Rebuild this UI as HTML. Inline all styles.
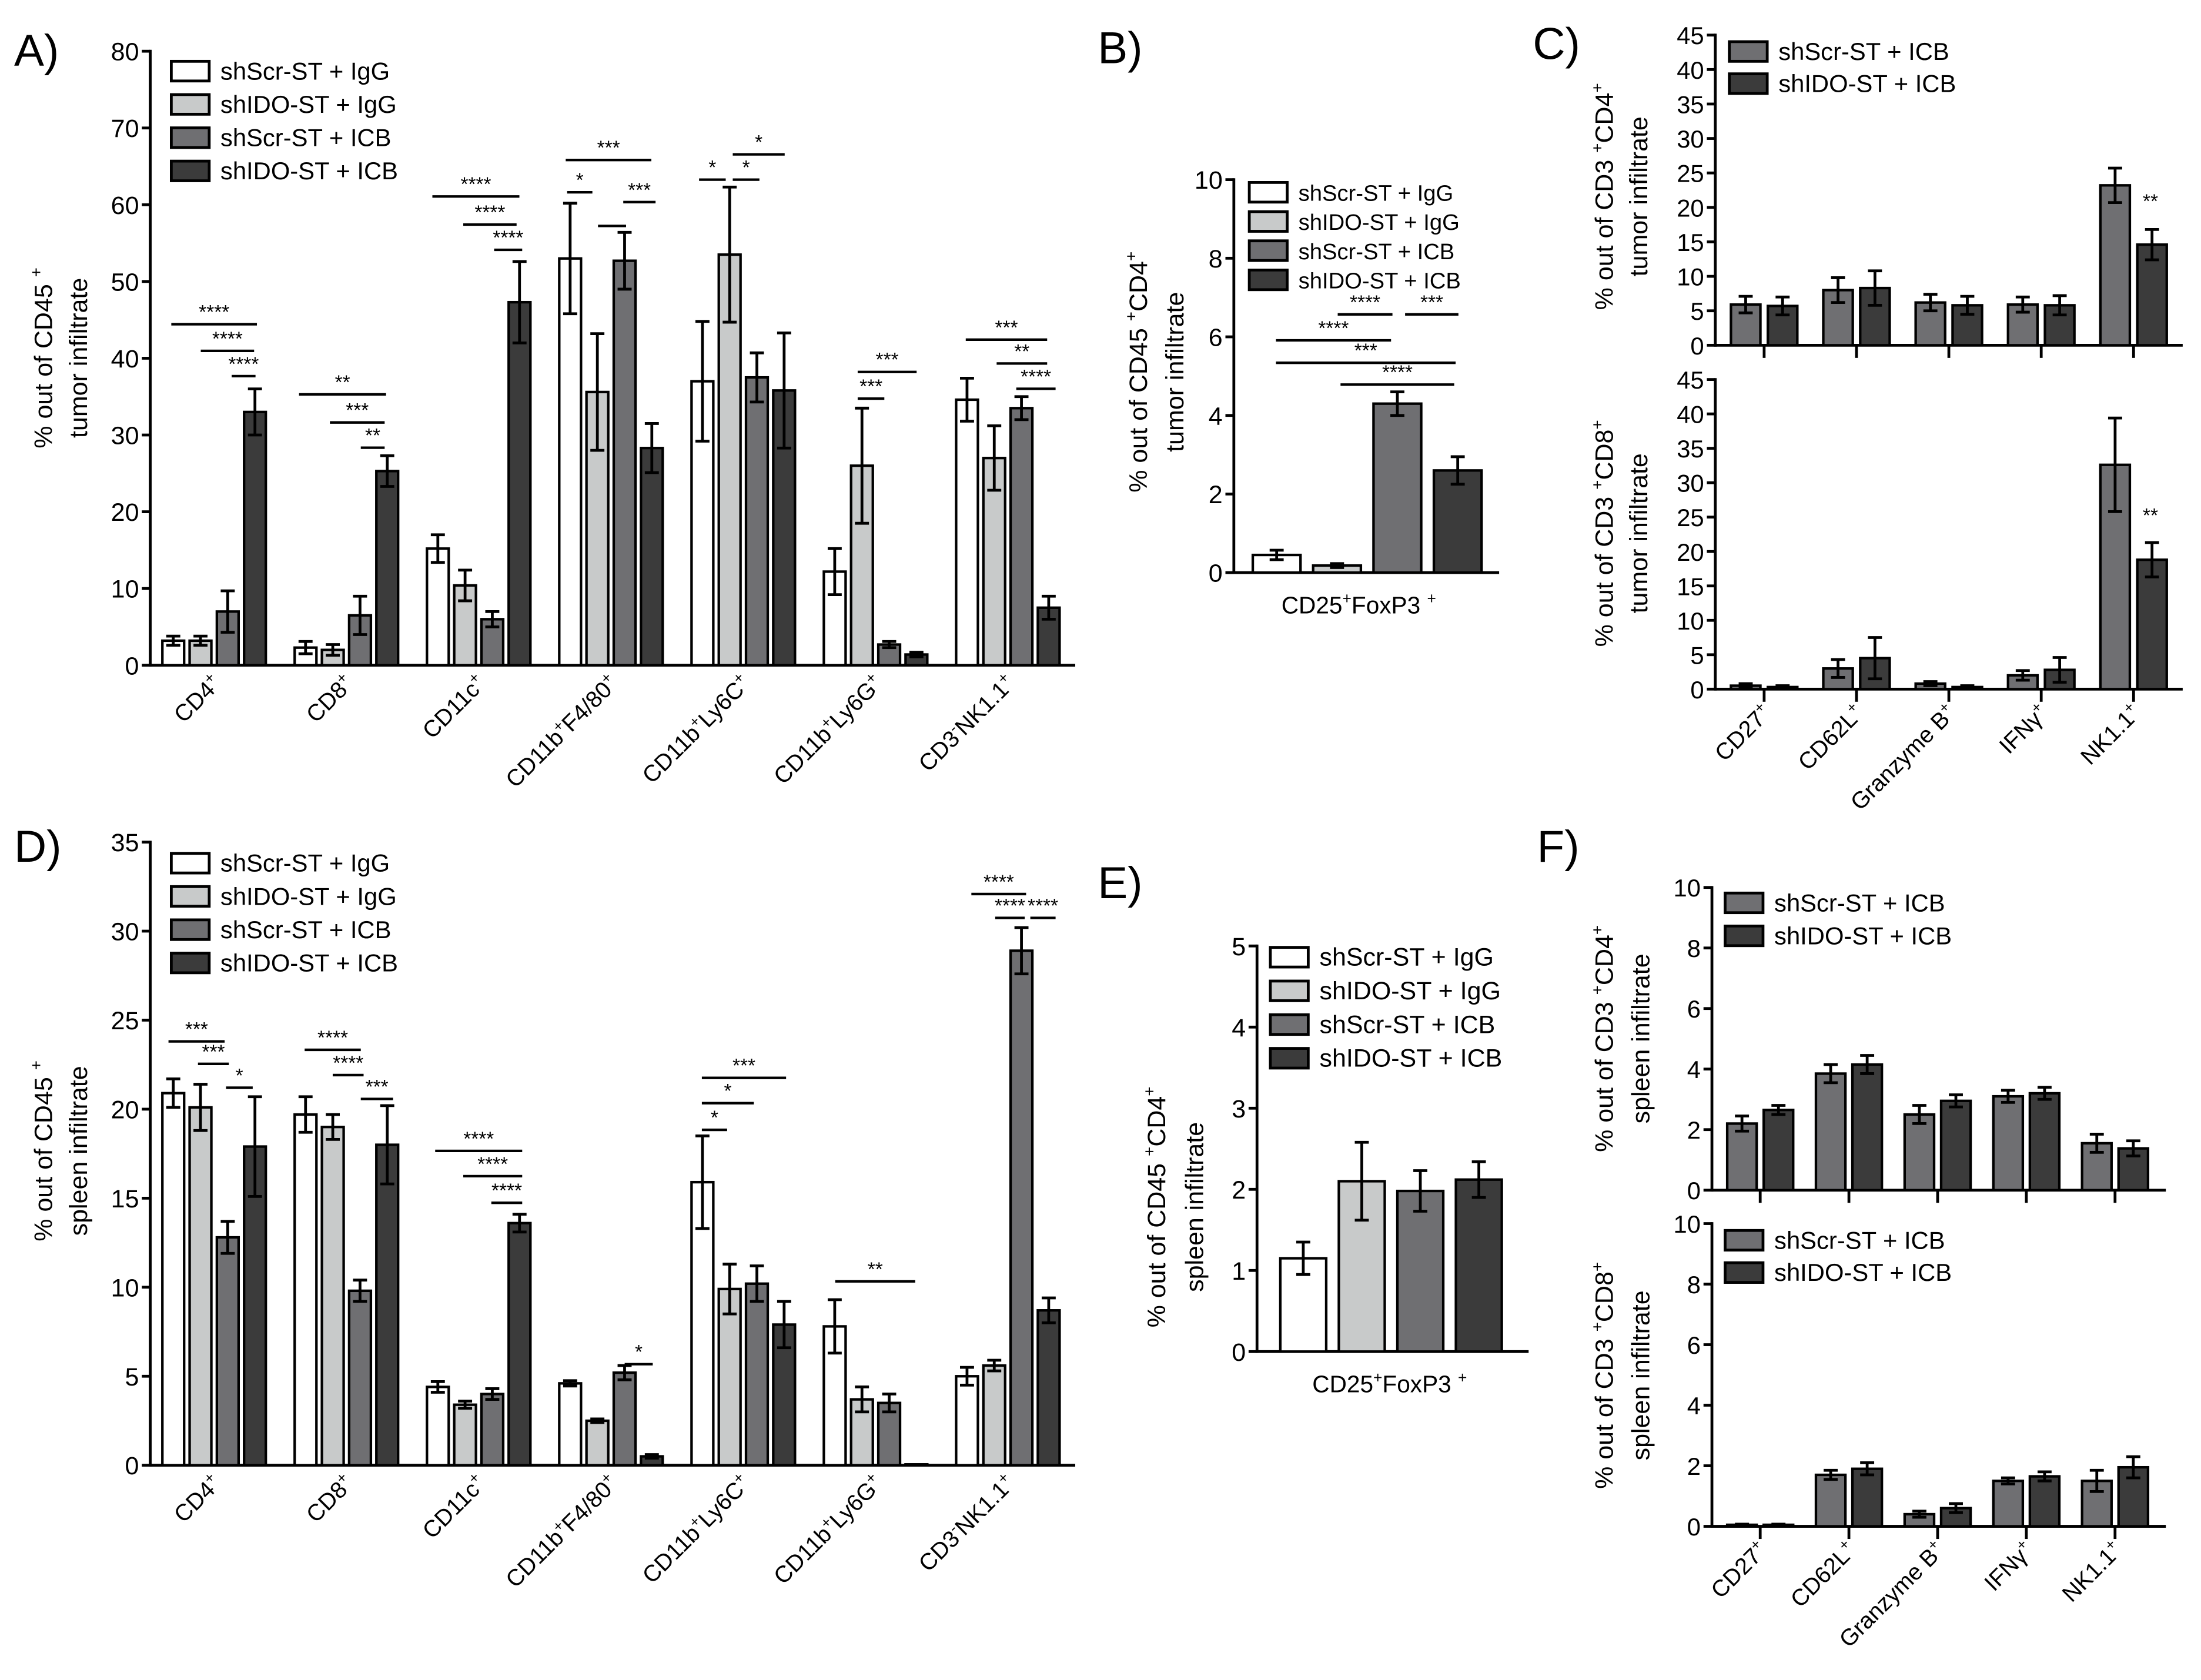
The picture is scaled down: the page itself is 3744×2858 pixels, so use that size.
<!DOCTYPE html>
<html><head><meta charset="utf-8">
<style>
html,body{margin:0;padding:0;background:#fff;}
svg{display:block;}
text{font-family:"Liberation Sans",Arial,sans-serif;fill:#000;}
</style></head>
<body>
<svg id="fig" width="3744" height="2858" viewBox="0 0 1568 1197" xmlns="http://www.w3.org/2000/svg"></svg>
<script>
// ---- data ----
const seriesNames4 = ["shScr-ST + IgG","shIDO-ST + IgG","shScr-ST + ICB","shIDO-ST + ICB"];
const seriesNames2 = ["shScr-ST + ICB","shIDO-ST + ICB"];
const catsAD = ["CD4+","CD8+","CD11c+","CD11b+F4/80+","CD11b+Ly6C+","CD11b+Ly6G+","CD3-NK1.1+"];
const catsCF = ["CD27+","CD62L+","Granzyme B+","IFNγ+","NK1.1+"];
const catsBE = ["CD25+FoxP3 +"];
// A (tumor)
const aScrIgG = [3.2,2.3,15.2,53,37,12.2,34.6];
const aIdoIgG = [3.2,2,10.4,35.6,53.5,26,27];
const aScrICB = [7,6.5,6,52.7,37.5,2.7,33.5];
const aIdoICB = [33,25.3,47.3,28.3,35.8,1.4,7.5];
const aErrScrIgG = [0.6,0.8,1.8,7.2,7.8,3,2.8];
const aErrIdoIgG = [0.6,0.7,2,7.6,8.8,7.5,4.2];
const aErrScrICB = [2.7,2.5,1,3.7,3.2,0.4,1.5];
const aErrIdoICB = [3,2,5.3,3.2,7.5,0.3,1.5];
// B
const bVals = [0.45,0.18,4.3,2.6];
const bErr = [0.12,0.05,0.3,0.35];
// C top / bottom
const cTopScr = [5.9,8,6.2,5.9,23.2];
const cTopIdo = [5.7,8.3,5.8,5.8,14.6];
const cTopErrScr = [1.2,1.8,1.2,1.1,2.5];
const cTopErrIdo = [1.3,2.5,1.3,1.4,2.2];
const cBotScr = [0.5,3,0.8,2,32.6];
const cBotIdo = [0.3,4.5,0.3,2.8,18.8];
const cBotErrScr = [0.3,1.3,0.3,0.7,6.8];
const cBotErrIdo = [0.2,3,0.2,1.8,2.5];
// D (spleen)
const dScrIgG = [20.9,19.7,4.4,4.6,15.9,7.8,5];
const dIdoIgG = [20.1,19,3.4,2.5,9.9,3.7,5.6];
const dScrICB = [12.8,9.8,4,5.2,10.2,3.5,28.9];
const dIdoICB = [17.9,18,13.6,0.5,7.9,0.05,8.7];
const dErrScrIgG = [0.8,1,0.3,0.15,2.6,1.5,0.5];
const dErrIdoIgG = [1.3,0.7,0.2,0.1,1.4,0.7,0.3];
const dErrScrICB = [0.9,0.6,0.3,0.4,1,0.5,1.3];
const dErrIdoICB = [2.8,2.2,0.5,0.1,1.3,0,0.7];
// E
const eVals = [1.15,2.1,1.98,2.12];
const eErr = [0.2,0.48,0.25,0.22];
// F top / bottom
const fTopScr = [2.2,3.85,2.5,3.1,1.55];
const fTopIdo = [2.65,4.15,2.95,3.2,1.38];
const fTopErrScr = [0.25,0.3,0.3,0.2,0.3];
const fTopErrIdo = [0.15,0.3,0.2,0.2,0.25];
const fBotScr = [0.05,1.7,0.4,1.5,1.5];
const fBotIdo = [0.05,1.9,0.6,1.65,1.95];
const fBotErrScr = [0.02,0.15,0.1,0.1,0.35];
const fBotErrIdo = [0.02,0.2,0.15,0.15,0.35];
// ticks
const ticksA = [0,10,20,30,40,50,60,70,80];
const ticksB = [0,2,4,6,8,10];
const ticksC = [0,5,10,15,20,25,30,35,40,45];
const ticksD = [0,5,10,15,20,25,30,35];
const ticksE = [0,1,2,3,4,5];
const ticksF = [0,2,4,6,8,10];

const COL4 = ["#ffffff","#c8caca","#6f6f72","#3b3b3b"];
const COL2 = ["#6f6f72","#3b3b3b"];
const NS = "http://www.w3.org/2000/svg";
const svg = document.getElementById('fig');
function mk(tag, attrs, parent){const e=document.createElementNS(NS,tag);for(const k in attrs)e.setAttribute(k,attrs[k]);(parent||svg).appendChild(e);return e;}

function labelText(parent, x, y, label, fs, anchor, rot){
  const t = mk('text',{x:x,y:y,'font-size':fs,'text-anchor':anchor},parent);
  if(rot) t.setAttribute('transform','rotate('+rot+' '+x+' '+y+')');
  const parts = label.match(/[^+-]+|[+-]/g);
  parts.forEach(p=>{
    const ts = mk('tspan',{},t);
    if(p==='+'||p==='-'){ts.setAttribute('font-size',fs*0.65);ts.setAttribute('dy',-fs*0.4);}
    else if(t.childNodes.length>1 && /[+-]/.test(t.childNodes[t.childNodes.length-2].textContent)){ts.setAttribute('dy',fs*0.4);}
    ts.textContent=p;
  });
  return t;
}

function panel(cfg){
  const g = mk('g',{});
  
  
  const ymax = cfg.ticks[cfg.ticks.length-1];
  const y = v => cfg.y0 - (v/ymax)*(cfg.y0-cfg.y1);
  const x = (ci, si) => cfg.cx0 + ci*cfg.cstep + (si-(cfg.series.length-1)/2)*cfg.bstep;
  const ax = mk('g',{},g);
  
  
  mk('line',{x1:cfg.ax,y1:cfg.y1-1,x2:cfg.ax,y2:cfg.y0+1,stroke:'#000','stroke-width':2},ax);
  cfg.ticks.forEach(t=>{
    mk('line',{x1:cfg.ax-6,y1:y(t),x2:cfg.ax,y2:y(t),stroke:'#000','stroke-width':2},ax);
    const tt = mk('text',{x:cfg.ax-8,y:y(t)+6.5,'font-size':cfg.tickFs||18,'text-anchor':'end'},ax);
    tt.textContent=t;
  });
  const xa = mk('line',{x1:cfg.ax,y1:cfg.y0,x2:cfg.axEnd,y2:cfg.y0,stroke:'#000','stroke-width':2},g);
  
  
  if(cfg.groupTicks){
    cfg.series[0].forEach((v,ci)=>{
      const cx = cfg.cx0 + ci*cfg.cstep;
      mk('line',{x1:cx,y1:cfg.y0,x2:cx,y2:cfg.y0+9,stroke:'#000','stroke-width':2},g);
    });
  }
  cfg.series.forEach((vals, si)=>{
    vals.forEach((v, ci)=>{
      const bx = x(ci,si), bw = cfg.bw;
      const r = mk('rect',{x:bx-bw/2,y:y(v),width:bw,height:cfg.y0-y(v),fill:cfg.colors[si],stroke:'#000','stroke-width':1.8},g);
      
      
      const e = cfg.errs[si][ci];
      if(e>0){
        const el = mk('path',{d:'M'+bx+' '+y(v-e)+'V'+y(v+e)+'M'+(bx-5)+' '+y(v+e)+'H'+(bx+5)+'M'+(bx-5)+' '+y(v-e)+'H'+(bx+5),stroke:'#000','stroke-width':2,fill:'none'},g);
        
        
      }
    });
  });
  cfg.cats.forEach((c,ci)=>{
    const cx = cfg.cx0 + ci*cfg.cstep;
    let tl;
    if(cfg.rot) tl = labelText(g, cx+6, cfg.y0+(cfg.groupTicks?18:14), c, 16.5, 'end', -45);
    else tl = labelText(g, cfg.catX||cx, cfg.y0+29, c, 17, 'middle', 0);
    
    
  });
  const yt = mk('g',{},g);
  
  
  cfg.ytitle.forEach((line,i)=>{
    labelText(yt, cfg.ytx + i*(cfg.ytStep||25), cfg.yty, line, 18, 'middle', -90);
  });
  const lg = mk('g',{},g);
  
  
  cfg.legNames.forEach((n,i)=>{
    const ly = cfg.leg[1] + i*cfg.leg[2];
    const le = mk('g',{},lg);
    
    
    mk('rect',{x:cfg.leg[0],y:ly-7,width:27,height:14,fill:cfg.colors[i],stroke:'#000','stroke-width':2},le);
    const lt = mk('text',{x:cfg.leg[0]+35,y:ly+6,'font-size':cfg.leg[3]},le);
    lt.textContent=n;
  });
  (cfg.sig||[]).forEach(s=>{
    const sg = mk('g',{},g);
    
    
    if(s[1]>s[0]) mk('line',{x1:s[0],y1:s[2],x2:s[1],y2:s[2],stroke:'#000','stroke-width':1.8},sg);
    const st = mk('text',{x:(s[0]+s[1])/2,y:s[2]-4,'font-size':14,'text-anchor':'middle'},sg);
    st.textContent=s[3];
  });
  const pl = mk('text',{x:cfg.letter[0],y:cfg.letter[1],'font-size':32},g);
  
  
  pl.textContent=cfg.letter[2];
}

panel({name:'panel-a',ax:107,axEnd:766,y0:474,y1:36.5,ticks:ticksA,cx0:152.5,cstep:94.25,bstep:19.4,bw:15.5,
  series:[aScrIgG,aIdoIgG,aScrICB,aIdoICB],errs:[aErrScrIgG,aErrIdoIgG,aErrScrICB,aErrIdoICB],colors:COL4,
  cats:catsAD,rot:true,ytitle:['% out of CD45 +','tumor infiltrate'],ytx:37,yty:255,
  legNames:seriesNames4,leg:[122,50.7,23.7,17.5],letter:[10,47,'A)'],
  sig:[[122,183,231,'****'],[143,181,250,'****'],[165,182,268,'****'],
       [213,275,281,'**'],[235,274,301,'***'],[257,274,319,'**'],
       [308,370,140,'****'],[330,368,160,'****'],[352,372,178,'****'],
       [403,464,114,'***'],[404,422,137,'*'],[426,446,161,''],[444,467,144,'***'],
       [498,517,128,'*'],[522,541,128,'*'],[522,559,110,'*'],
       [611,653,265,'***'],[611,630,284,'***'],
       [688,746,242,'***'],[710,746,259,'**'],[724,752,277,'****']]});

panel({name:'panel-b',ax:879,axEnd:1068,y0:408,y1:128,ticks:ticksB,cx0:974,cstep:0,bstep:43,bw:34,
  series:[[bVals[0]],[bVals[1]],[bVals[2]],[bVals[3]]],errs:[[bErr[0]],[bErr[1]],[bErr[2]],[bErr[3]]],colors:COL4,
  cats:catsBE,rot:false,catX:968,ytitle:['% out of CD45 +CD4+','tumor infiltrate'],ytx:817,ytStep:26,yty:265,
  legNames:seriesNames4,leg:[890,137,20.8,16],letter:[782,45,'B)'],
  sig:[[953,992,224,'****'],[1001,1039,224,'***'],[909,991,242.5,'****'],[909,1037,258.5,'***'],[955,1036,274,'****']]});

panel({name:'panel-c-top',ax:1222,axEnd:1555,y0:246,y1:25,ticks:ticksC,cx0:1256.8,cstep:65.8,bstep:26.3,bw:21,groupTicks:true,tickFs:17.5,
  series:[cTopScr,cTopIdo],errs:[cTopErrScr,cTopErrIdo],colors:COL2,cats:[],ytitle:['% out of CD3 +CD4+','tumor infiltrate'],ytx:1149,ytStep:24.5,yty:140,
  legNames:seriesNames2,leg:[1232,36.7,22.9,17.5],letter:[1092,42,'C)'],sig:[[1532,1532,152,'**']]});
panel({name:'panel-c-bottom',ax:1222,axEnd:1555,y0:491,y1:270.4,ticks:ticksC,cx0:1256.8,cstep:65.8,bstep:26.3,bw:21,groupTicks:true,tickFs:17.5,
  series:[cBotScr,cBotIdo],errs:[cBotErrScr,cBotErrIdo],colors:COL2,cats:catsCF,rot:true,ytitle:['% out of CD3 +CD8+','tumor infiltrate'],ytx:1149,ytStep:24.5,yty:380,
  legNames:[],leg:[0,0,0,0],letter:[0,0,''],sig:[[1532,1532,376,'**']]});

panel({name:'panel-d',ax:107,axEnd:766,y0:1044,y1:600,ticks:ticksD,cx0:152.5,cstep:94.25,bstep:19.4,bw:15.5,
  series:[dScrIgG,dIdoIgG,dScrICB,dIdoICB],errs:[dErrScrIgG,dErrIdoIgG,dErrScrICB,dErrIdoICB],colors:COL4,
  cats:catsAD,rot:true,ytitle:['% out of CD45 +','spleen infiltrate'],ytx:37,yty:820,
  legNames:seriesNames4,leg:[122,615,23.7,17.5],letter:[10,614,'D)'],
  sig:[[120,160,742,'***'],[141,163,758,'***'],[161,180,775,'*'],
       [217,257,748,'****'],[237,259,766,'****'],[257,280,783,'***'],
       [310,372,820,'****'],[330,372,838,'****'],[350,372,857,'****'],
       [445,465,972,'*'],
       [500,560,768,'***'],[500,537,786,'*'],[500,518,805,'*'],
       [595,652,913,'**'],
       [692,731,637,'****'],[709,730,654,'****'],[734,752,654,'****']]});

panel({name:'panel-e',ax:895.5,axEnd:1089,y0:963,y1:674,ticks:ticksE,cx0:991,cstep:0,bstep:41.7,bw:32.7,
  series:[[eVals[0]],[eVals[1]],[eVals[2]],[eVals[3]]],errs:[[eErr[0]],[eErr[1]],[eErr[2]],[eErr[3]]],colors:COL4,
  cats:catsBE,rot:false,catX:990,ytitle:['% out of CD45 +CD4+','spleen infiltrate'],ytx:830,ytStep:27,yty:860,
  legNames:seriesNames4,leg:[905,682,24,18],letter:[782,640,'E)'],sig:[]});

panel({name:'panel-f-top',ax:1219.6,axEnd:1543,y0:848,y1:632.3,ticks:ticksF,cx0:1254,cstep:63.2,bstep:26,bw:21,groupTicks:true,tickFs:17.5,
  series:[fTopScr,fTopIdo],errs:[fTopErrScr,fTopErrIdo],colors:COL2,cats:[],ytitle:['% out of CD3 +CD4+','spleen infiltrate'],ytx:1149,ytStep:26,yty:740,
  legNames:seriesNames2,leg:[1229,643.3,23.5,17.5],letter:[1095,614,'F)'],sig:[]});
panel({name:'panel-f-bottom',ax:1219.6,axEnd:1543,y0:1087.5,y1:871.8,ticks:ticksF,cx0:1254,cstep:63.2,bstep:26,bw:21,groupTicks:true,tickFs:17.5,
  series:[fBotScr,fBotIdo],errs:[fBotErrScr,fBotErrIdo],colors:COL2,cats:catsCF,rot:true,ytitle:['% out of CD3 +CD8+','spleen infiltrate'],ytx:1149,ytStep:26,yty:980,
  legNames:seriesNames2,leg:[1229,883.7,23,17.5],letter:[0,0,''],sig:[]});
</script>
</body></html>
